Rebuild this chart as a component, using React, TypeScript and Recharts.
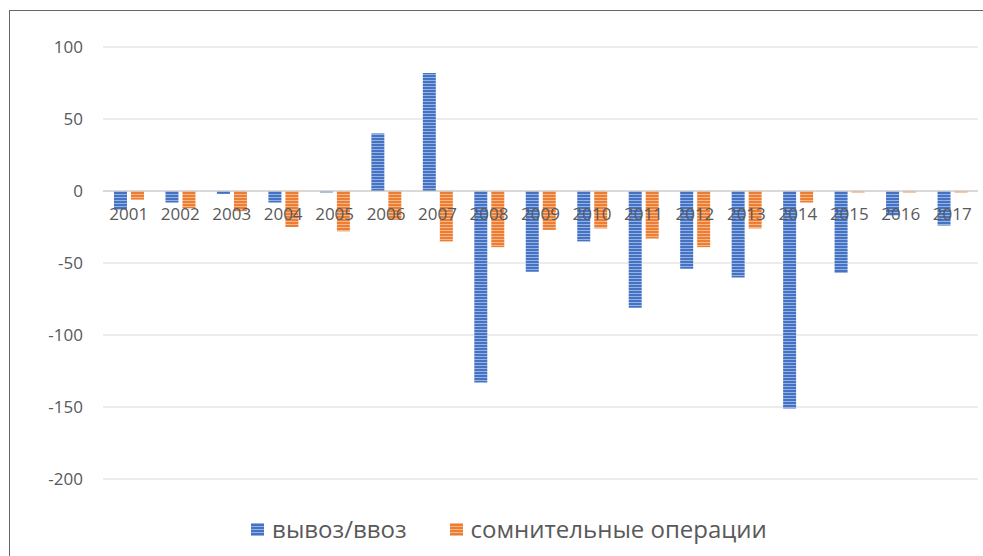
import React from "react";
import { BarChart, Bar, XAxis, YAxis, CartesianGrid, Legend, ReferenceLine } from "recharts";

// ─── Data ─────────────────────────────────────────────────────────────────────

const years = ["2001", "2002", "2003", "2004", "2005", "2006", "2007", "2008", "2009", "2010", "2011", "2012", "2013", "2014", "2015", "2016", "2017"];
const exportImport = [-13, -8, -2, -8, -1, 40, 82, -133, -56, -35, -81, -54, -60, -151, -57, -17, -24];
const suspicious = [-6, -12, -14, -25, -28, -20, -35, -39, -27, -26, -33, -39, -26, -8, -1, -1, -1];
const yTicks = [-200, -150, -100, -50, 0, 50, 100];

const data = years.map((year, i) => ({
  year,
  exportImport: exportImport[i],
  suspicious: suspicious[i],
}));

// ─── Layout ───────────────────────────────────────────────────────────────────

const W = 975;
const H = 548;
const TOP = 39;
const PLOT_H = 432;
const Y_MIN = -200;
const Y_MAX = 100;
const ZERO_Y = TOP + (PLOT_H * Y_MAX) / (Y_MAX - Y_MIN);

const BLUE = "#4472c4";
const ORANGE = "#ed7d31";
const TEXT = "#595959";
const FONT = "'Open Sans', sans-serif";

// year labels sit just under the zero line, like in Excel
function YearTick({ x, payload }: any) {
  return (
    <text x={x} y={ZERO_Y + 22} textAnchor="middle" dominantBaseline="central" fill={TEXT} fontSize={17} fontFamily={FONT}>
      {payload.value}
    </text>
  );
}

function LegendContent() {
  const items = [
    { label: "вывоз/ввоз", fill: "url(#stripeBlue)" },
    { label: "сомнительные операции", fill: "url(#stripeOrange)" },
  ];
  return (
    <div style={{ display: "flex", justifyContent: "center", paddingLeft: 32, height: 30, lineHeight: "30px", fontFamily: FONT, fontSize: 24, color: TEXT }}>
      {items.map((it, i) => (
        <div key={it.label} style={{ display: "flex", alignItems: "center", marginLeft: i ? 43 : 0 }}>
          <svg width={13} height={13} style={{ marginRight: 8 }}>
            <rect width={13} height={13} fill={it.fill} />
          </svg>
          <span>{it.label}</span>
        </div>
      ))}
    </div>
  );
}

export default function App() {
  return (
    <div style={{ position: "fixed", left: 0, top: 0, width: 983, height: 556, overflow: "hidden", background: "#fff" }}>
      <div style={{ position: "absolute", left: 9, top: 10, width: 1000, height: 600, borderTop: "1px solid #666", borderLeft: "1px solid #666" }} />
      <div style={{ position: "absolute", left: 8, top: 8 }}>
        <BarChart width={W} height={H} data={data} margin={{ top: TOP, right: 5, left: 0, bottom: 12 }} barSize={13} barGap={4}>
          <defs>
            <pattern id="stripeBlue" width={4} height={3} patternUnits="userSpaceOnUse">
              <rect width={4} height={3} fill={BLUE} />
              <rect width={4} height={1} fill="#ffffff" fillOpacity={0.45} />
            </pattern>
            <pattern id="stripeOrange" width={4} height={3} patternUnits="userSpaceOnUse">
              <rect width={4} height={3} fill={ORANGE} />
              <rect width={4} height={1} fill="#ffffff" fillOpacity={0.45} />
            </pattern>
          </defs>
          <CartesianGrid vertical={false} stroke="#d9d9d9" />
          <XAxis dataKey="year" height={35} axisLine={false} tickLine={false} tick={<YearTick />} interval={0} />
          <YAxis
            width={95}
            domain={[Y_MIN, Y_MAX]}
            ticks={yTicks}
            axisLine={false}
            tickLine={false}
            tickMargin={14}
            tick={{ fontSize: 17, fill: TEXT, fontFamily: FONT }}
          />
          <ReferenceLine y={0} stroke="#c6c6c6" />
          <Bar dataKey="exportImport" name="вывоз/ввоз" fill="url(#stripeBlue)" isAnimationActive={false} />
          <Bar dataKey="suspicious" name="сомнительные операции" fill="url(#stripeOrange)" isAnimationActive={false} />
          <Legend verticalAlign="bottom" content={<LegendContent />} />
        </BarChart>
      </div>
    </div>
  );
}
